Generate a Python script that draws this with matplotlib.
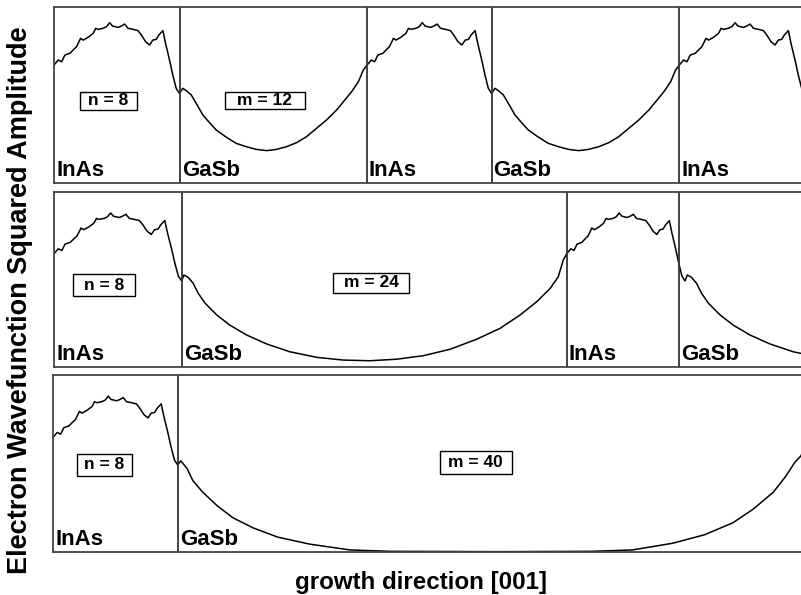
import matplotlib
matplotlib.use("Agg")
import matplotlib.pyplot as plt
from matplotlib.patches import Rectangle

# InAs well shape (identical in every period); position as fraction of layer width
inas_frac = [0.000, 0.034, 0.061, 0.087, 0.127, 0.153, 0.180, 0.212, 0.233, 0.272,
             0.312, 0.333, 0.352, 0.392, 0.418, 0.444, 0.466, 0.511, 0.537, 0.563,
             0.590, 0.630, 0.669, 0.696, 0.730, 0.762, 0.788, 0.815, 0.836, 0.868,
             0.889, 0.921, 0.947, 0.974, 1.000]
inas_amp = [0.670, 0.699, 0.689, 0.727, 0.737, 0.756, 0.775, 0.822, 0.812, 0.828,
            0.850, 0.879, 0.873, 0.879, 0.888, 0.911, 0.892, 0.884, 0.892, 0.903,
            0.879, 0.873, 0.866, 0.841, 0.803, 0.784, 0.812, 0.816, 0.841, 0.866,
            0.794, 0.699, 0.614, 0.538, 0.509]

# GaSb barrier shapes for m = 12, 24, 40
gasb12_frac = [0.000, 0.018, 0.036, 0.063, 0.089, 0.125, 0.160, 0.196, 0.250, 0.303,
               0.357, 0.410, 0.464, 0.517, 0.570, 0.624, 0.677, 0.731, 0.784, 0.838,
               0.882, 0.918, 0.954, 0.980, 1.000]
gasb12_amp = [0.509, 0.538, 0.525, 0.500, 0.453, 0.386, 0.343, 0.301, 0.260, 0.225,
              0.206, 0.191, 0.184, 0.191, 0.206, 0.229, 0.263, 0.311, 0.358, 0.415,
              0.472, 0.519, 0.576, 0.642, 0.670]

gasb24_frac = [0.000, 0.006, 0.017, 0.030, 0.043, 0.061, 0.091, 0.125, 0.169, 0.221,
               0.281, 0.351, 0.420, 0.489, 0.558, 0.628, 0.697, 0.766, 0.827, 0.879,
               0.922, 0.957, 0.978, 0.991, 1.000]
gasb24_amp = [0.509, 0.544, 0.530, 0.495, 0.436, 0.377, 0.308, 0.248, 0.189, 0.136,
              0.090, 0.057, 0.041, 0.037, 0.046, 0.067, 0.105, 0.164, 0.229, 0.308,
              0.386, 0.465, 0.534, 0.633, 0.670]

gasb40_frac = [0.000, 0.005, 0.015, 0.024, 0.040, 0.063, 0.088, 0.120, 0.159, 0.210,
               0.274, 0.338, 0.511, 0.659, 0.723, 0.787, 0.838, 0.883, 0.915, 0.947,
               0.966, 0.982, 0.991, 1.000]
gasb40_amp = [0.509, 0.533, 0.488, 0.418, 0.349, 0.270, 0.200, 0.141, 0.087, 0.046,
              0.012, 0.004, 0.002, 0.004, 0.012, 0.051, 0.101, 0.171, 0.250, 0.349,
              0.438, 0.527, 0.561, 0.640]

# layer edges along the growth direction (ML) used for the curve, per panel
edges_m12 = [0.0, 7.99, 19.94, 27.87, 39.83, 47.83]
edges_m24 = [0.0, 8.13, 32.66, 40.19, 64.72]
edges_m40 = [0.0, 7.93, 47.93]

# interface lines as drawn in the figure
iface_m12 = [8.03, 19.94, 27.87, 39.83]
iface_m24 = [8.15, 32.68, 39.81]
iface_m40 = [7.96]

materials = ["InAs", "GaSb"]
well_label = "n = 8"
barrier_labels = ["m = 12", "m = 24", "m = 40"]


def build_curve(edges, g_frac, g_amp):
    xs, ys = [], []
    for i in range(len(edges) - 1):
        x0, x1 = edges[i], edges[i + 1]
        fr, am = (inas_frac, inas_amp) if i % 2 == 0 else (g_frac, g_amp)
        xs += [x0 + f * (x1 - x0) for f in fr]
        ys += list(am)
    return xs, ys


plt.rcParams["font.family"] = ["Liberation Sans", "DejaVu Sans"]
plt.rcParams["font.weight"] = "bold"

fig = plt.figure(figsize=(8.01, 5.95), dpi=100)

panels = [
    dict(rect=[54 / 801, 1 - 183 / 595, 747 / 801, 176 / 595], top=1.0,
         edges=edges_m12, iface=iface_m12, g=(gasb12_frac, gasb12_amp), lab=barrier_labels[0],
         nbox=(0.0348, 0.4148, 0.0759, 0.1040), mbox=(0.2289, 0.4188, 0.1071, 0.1000)),
    dict(rect=[54 / 801, 1 - 367 / 595, 747 / 801, 175 / 595], top=1.035,
         edges=edges_m24, iface=iface_m24, g=(gasb24_frac, gasb24_amp), lab=barrier_labels[1],
         nbox=(0.0258, 0.4057, 0.0826, 0.1257), mbox=(0.3735, 0.4246, 0.1017, 0.1143)),
    dict(rect=[53 / 801, 1 - 552 / 595, 748 / 801, 177 / 595], top=1.035,
         edges=edges_m40, iface=iface_m40, g=(gasb40_frac, gasb40_amp), lab=barrier_labels[2],
         nbox=(0.0321, 0.4294, 0.0735, 0.1243), mbox=(0.5168, 0.4424, 0.0968, 0.1305)),
]

xmax = 747 / 15.7
for p in panels:
    ax = fig.add_axes(p["rect"])
    xs, ys = build_curve(p["edges"], *p["g"])
    ax.plot(xs, ys, color="black", lw=1.1)
    for xv in p["iface"]:
        ax.axvline(xv, color="#333333", lw=1.3)
    ax.set_xlim(0, xmax)
    ax.set_ylim(0, p["top"])
    ax.set_xticks([])
    ax.set_yticks([])
    for s in ["left", "top", "bottom"]:
        ax.spines[s].set_color("#444444")
        ax.spines[s].set_linewidth(1.3)
    ax.spines["right"].set_visible(False)

    # material names at the bottom of each layer
    starts = [0.15] + [v + 0.12 for v in p["iface"]]
    for k, xv in enumerate(starts):
        ax.text(xv, 0.04 * p["top"], materials[k % 2], fontsize=16, fontweight="bold",
                ha="left", va="baseline")

    for box, txt in [(p["nbox"], well_label), (p["mbox"], p["lab"])]:
        ax.add_patch(Rectangle(box[:2], box[2], box[3], transform=ax.transAxes,
                               fc="white", ec="black", lw=1.0, zorder=3))
        ax.text(box[0] + box[2] / 2, box[1] + box[3] / 2, txt, transform=ax.transAxes,
                fontsize=12.5, fontweight="bold", ha="center", va="center", zorder=4)

fig.text(20 / 801, 1 - 300 / 595, "Electron Wavefunction Squared Amplitude",
         rotation=90, ha="center", va="center", fontsize=19.5, fontweight="bold")
fig.text(421 / 801, 1 - 583 / 595, "growth direction [001]",
         ha="center", va="center", fontsize=17.4, fontweight="bold")

fig.savefig("out.png", dpi=100)
